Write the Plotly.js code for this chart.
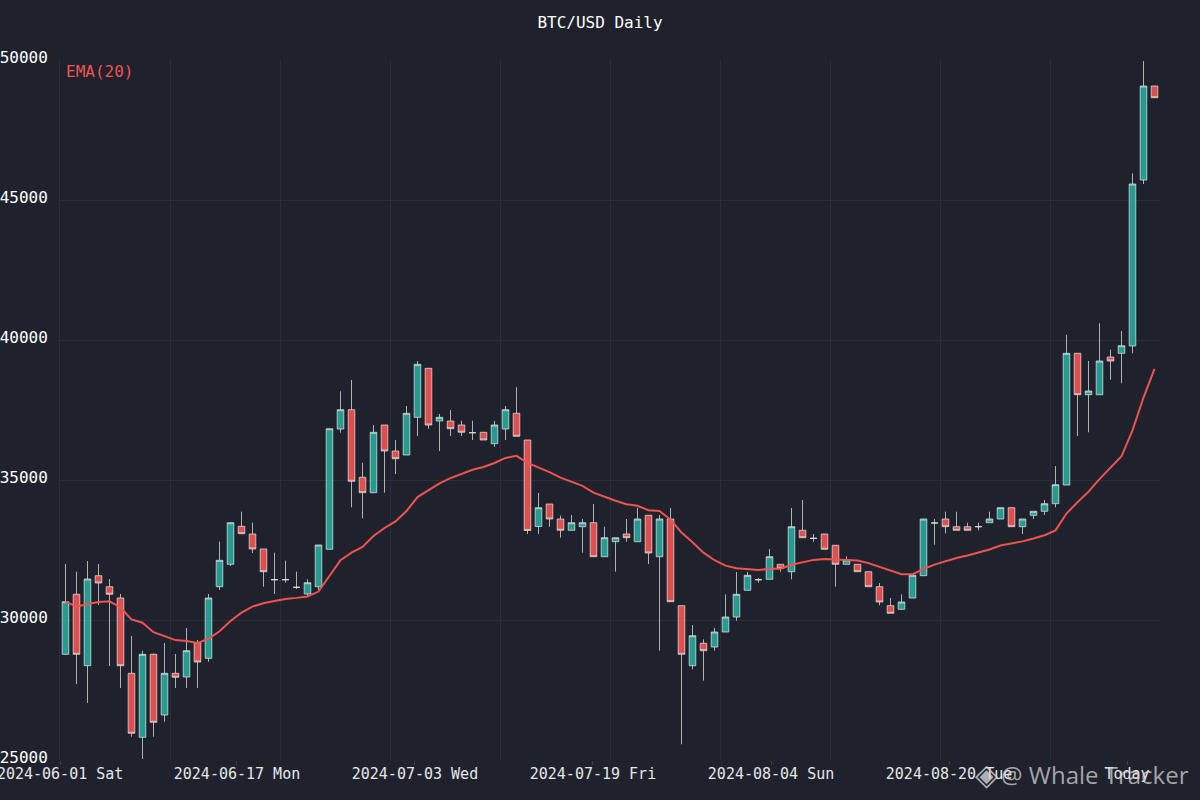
<!DOCTYPE html>
<html>
<head>
<meta charset="utf-8">
<script src="https://cdn.plot.ly/plotly-3.0.1.min.js"></script>
<style>
  html, body { margin: 0; padding: 0; background: #1f222d; }
  #chart { width: 1200px; height: 800px; }
</style>
</head>
<body>
<div id="chart"></div>
<script>
// ---- data ----
const openPrices = [28775,30918,28368,31582,31189,30786,28096,25811,28775,26607,
  28096,27964,29189,28632,31189,31989,33346,33071,32536,31439,
  31439,31168,30929,31189,32525,36821,37511,35096,34546,36964,
  36036,35893,37239,38989,37107,37107,36964,36689,36704,36296,
  36821,37382,36429,33339,34143,33607,33204,33332,33475,32261,
  32796,33071,32796,33739,32261,33607,30511,28368,29168,29036,
  29571,30107,31061,31439,31454,31989,31725,33204,32918,33071,
  32668,31989,31989,31725,31189,30511,30382,30786,31582,33464,
  33607,33332,33332,33332,33475,33607,34011,33332,33739,33882,
  34154,34821,39525,38046,38046,39393,39525,39786,45714,49071];
const highPrices = [32000,31725,32107,32000,31464,30929,29429,28904,28800,29179,
  28786,29714,29286,30929,32796,33500,33868,33475,32536,32404,
  32118,31725,31454,32679,36832,38168,38571,35618,36964,36964,
  36429,37643,39250,39000,37357,37500,37118,37118,36714,37107,
  37643,38311,36429,34536,34143,33725,33750,33607,34143,33332,
  32939,33607,34011,33739,33750,34000,30511,29821,29311,29714,
  30918,31714,31714,31500,32536,31989,34000,34286,33071,33071,
  32668,32275,31989,31725,31321,30786,30918,31596,33607,33607,
  33868,33868,33475,33475,33868,34011,34011,33607,33882,34286,
  35500,40189,39525,39250,40596,39654,40321,45954,49960,49071];
const lowPrices = [28750,27714,27036,30536,28357,27571,25832,25036,25832,26368,
  27571,27571,27571,28511,31071,31929,33071,32393,31189,30929,
  31332,31107,30857,31071,32525,36689,34025,33632,34546,34546,
  35214,35893,36571,36832,36036,36571,36571,36429,36429,36179,
  36429,36561,33071,33071,33332,32939,33204,32404,32261,32261,
  31725,32796,32796,32000,28904,30654,25561,28239,27832,28904,
  29571,29975,31061,31332,31454,31725,31454,32939,32796,32525,
  31189,31989,31725,31189,30525,30239,30382,30786,31582,32689,
  33096,33204,33204,33204,33475,33607,33332,33071,33607,33750,
  34025,34821,36571,36704,38046,38582,38454,39525,45571,48654];
const closePrices = [30654,28775,31464,31321,30918,28368,25954,28775,26346,28096,
  27954,28904,28500,30786,32132,33475,33082,32536,31725,31439,
  31439,31168,31332,32679,36832,37511,34954,34546,36704,36036,
  35761,37382,39132,36964,37239,36832,36704,36689,36429,36964,
  37511,36561,33196,34011,33607,33204,33475,33475,32261,32939,
  32939,32939,33607,32393,33607,30654,28775,29439,28904,29571,
  30107,30918,31596,31439,32261,31846,33332,32939,32918,32525,
  31989,32143,31725,31189,30643,30239,30643,31596,33607,33464,
  33332,33204,33204,33332,33607,34011,33332,33607,33882,34154,
  34832,39525,38046,38179,39250,39250,39796,45571,49071,48654];
const ema20 = [30654,30475,30569,30641,30667,30448,30020,29901,29563,29423,
  29283,29247,29176,29329,29596,29965,30262,30479,30597,30677,
  30750,30790,30841,31016,31570,32136,32404,32608,32998,33287,
  33523,33891,34390,34635,34883,35069,35224,35364,35465,35608,
  35789,35863,35609,35457,35281,35083,34930,34791,34550,34396,
  34257,34132,34082,33921,33891,33583,33125,32774,32405,32135,
  31942,31845,31821,31785,31830,31831,31974,32066,32147,32183,
  32165,32162,32121,32032,31900,31742,31637,31633,31821,31977,
  32106,32211,32306,32404,32518,32660,32724,32808,32910,33029,
  33201,33803,34207,34585,35030,35431,35847,36773,37945,38965];

const priceTickValues = [25000, 30000, 35000, 40000, 45000, 50000];
const priceTickLabels = ["25000", "30000", "35000", "40000", "45000", "50000"];
const dateTickValues = [-0.49, 15.59, 31.77, 47.95, 64.14, 80.32, 96.5];
const dateTickLabels = ["2024-06-01 Sat", "2024-06-17 Mon", "2024-07-03 Wed", "2024-07-19 Fri",
                        "2024-08-04 Sun", "2024-08-20 Tue", "Today"];
const gridValues = [-0.5, 9.5, 19.5, 29.5, 39.5, 49.5, 59.5, 69.5, 79.5, 89.5, 99.5];

const titleText = "BTC/USD Daily";
const maLabel = "EMA(20)";
const watermarkIcon = "◈";
const watermarkText = "@ Whale Tracker";

const xIndex = openPrices.map((_, i) => i);

const BG = "#1f222d";
const GRID = "#2a2e3b";
const DOWN = "#ef5350";
const MONO = "DejaVu Sans Mono, monospace";

const candles = {
  type: "candlestick",
  x: xIndex,
  open: openPrices, high: highPrices, low: lowPrices, close: closePrices,
  increasing: { line: { color: "rgba(225,225,225,0.75)", width: 1 }, fillcolor: "rgba(38,166,154,0.93)" },
  decreasing: { line: { color: "rgba(225,225,225,0.75)", width: 1 }, fillcolor: "rgba(239,83,80,0.93)" },
  whiskerwidth: 0,
  hoverinfo: "skip",
  showlegend: false
};
const ma = {
  type: "scatter", mode: "lines",
  x: xIndex, y: ema20,
  line: { color: DOWN, width: 2 },
  hoverinfo: "skip", showlegend: false
};

const layout = {
  width: 1200, height: 800,
  paper_bgcolor: BG, plot_bgcolor: BG,
  margin: { l: 60, r: 40, t: 60, b: 40 },
  font: { family: MONO, color: "#ffffff", size: 15 },
  boxgap: 0.14,
  title: { text: titleText, x: 0.5, xanchor: "center", y: 0.972, yanchor: "middle",
           font: { family: MONO, size: 16, color: "#ffffff" } },
  showlegend: false,
  xaxis: {
    type: "linear", range: [-0.5, 99.5],
    rangeslider: { visible: false },
    tickmode: "array", tickvals: dateTickValues, ticktext: dateTickLabels,
    ticks: "outside", ticklen: 4, tickcolor: "#3b3f4c",
    ticklabeloverflow: "allow", ticklabelstandoff: -4,
    tickfont: { family: MONO, size: 15, color: "#e6e6e6" },
    showgrid: false, zeroline: false, showline: false,
    minor: { tickmode: "array", tickvals: gridValues, showgrid: true, gridcolor: GRID, gridwidth: 1, ticks: "" }
  },
  yaxis: {
    range: [25000, 50000],
    tickmode: "array", tickvals: priceTickValues, ticktext: priceTickLabels,
    gridcolor: GRID, gridwidth: 1, zeroline: false,
    showline: true, linecolor: GRID, linewidth: 1,
    ticks: "", ticklabelstandoff: 8, ticklabelshift: -3, ticklabeloverflow: "allow",
    tickfont: { family: MONO, size: 16, color: "#ffffff" }
  },
  annotations: [
    { text: maLabel, xref: "paper", yref: "paper", x: 0.004, y: 0.983,
      xanchor: "left", yanchor: "middle", showarrow: false,
      font: { family: MONO, size: 16, color: DOWN } },
    { text: watermarkIcon, xref: "paper", yref: "paper", x: 0.8427, y: -0.02,
      xanchor: "center", yanchor: "middle", showarrow: false,
      font: { family: "DejaVu Sans, sans-serif", size: 30, color: "rgba(215,215,215,0.8)" } },
    { text: watermarkText, xref: "paper", yref: "paper", x: 1.028, y: -0.02,
      xanchor: "right", yanchor: "middle", showarrow: false,
      font: { family: "Open Sans, sans-serif", size: 24, color: "rgba(210,210,210,0.75)" } }
  ]
};

Plotly.newPlot("chart", [candles, ma], layout, { staticPlot: true, displayModeBar: false });
</script>
</body>
</html>
